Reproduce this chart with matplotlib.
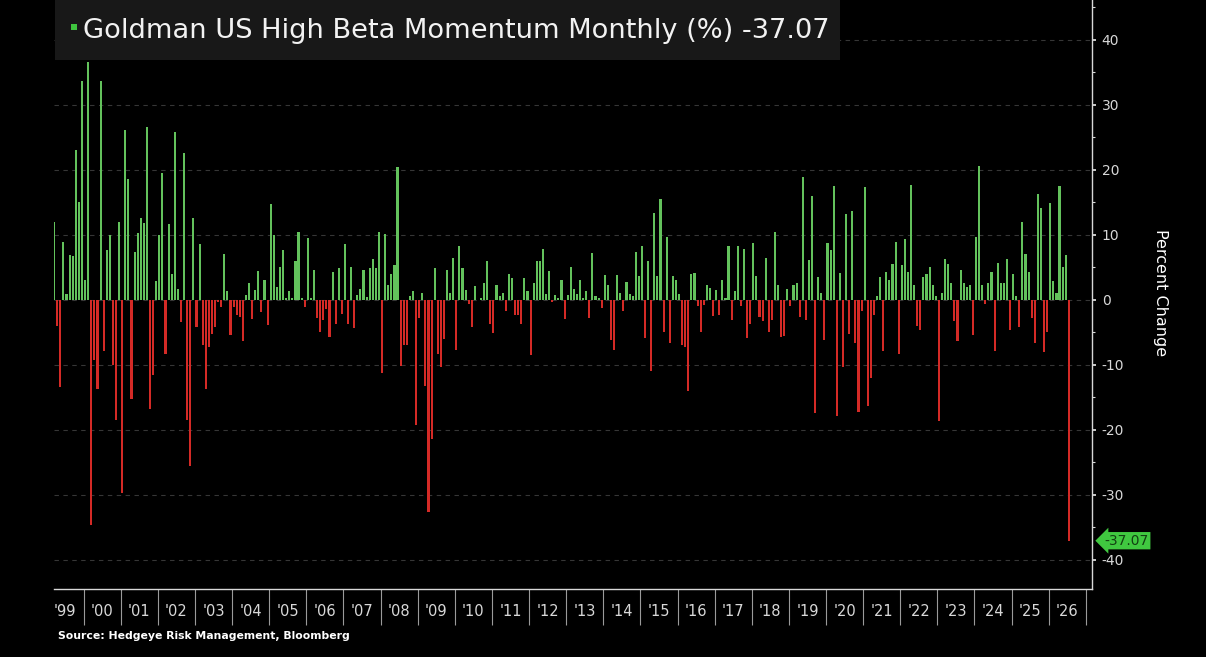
import numpy as np
import pandas as pd
import matplotlib
matplotlib.use("Agg")
import matplotlib.pyplot as plt
import matplotlib.transforms as mtransforms
from matplotlib.patches import Rectangle

plt.rcParams['font.family'] = ['DejaVu Sans']
plt.rcParams['axes.unicode_minus'] = False

# monthly % change, Mar 1999 .. Jul 2026 (one row per calendar year)
monthly_change = [
    11.9, -4.1, -13.4, 8.9, 0.9, 6.9, 6.7, 23.1, 15.0, 33.6,            # 1999 (Mar-Dec)
    3.1, 36.6, -34.7, -9.3, -13.8, 33.6, -7.9, 7.7, 9.9, -10.1, -18.5, 11.9,   # 2000
    -29.8, 26.1, 18.6, -15.2, 7.3, 10.3, 12.6, 11.8, 26.5, -16.8, -11.6, 2.9,  # 2001
    9.9, 19.5, -8.3, 11.6, 4.0, 25.8, 1.6, -3.4, 22.6, -18.5, -25.6, 12.5,     # 2002
    -4.2, 8.5, -6.9, -13.7, -7.3, -5.2, -4.2, -0.3, -1.1, 7.1, 1.3, -5.5,      # 2003
    -1.1, -2.3, -2.6, -6.3, 0.8, 2.5, -2.9, 1.5, 4.4, -1.9, 3.0, -3.9,         # 2004
    14.7, 10.0, 1.9, 5.0, 7.6, 0.3, 1.3, 0.2, 6.0, 10.4, 0.2, -1.1,            # 2005
    9.5, 0.2, 4.5, -2.8, -5.0, -3.1, -1.5, -5.7, 4.2, -3.8, 4.9, -2.2,         # 2006
    8.5, -3.7, 5.1, -4.4, 0.8, 1.6, 4.6, 0.4, 4.9, 6.2, 4.9, 10.4,             # 2007
    -11.3, 10.1, 2.3, 4.0, 5.3, 20.4, -10.2, -6.9, -6.9, 0.6, 1.3, -19.2,      # 2008
    -2.8, 1.0, -13.2, -32.7, -21.5, 4.9, -8.3, -10.4, -6.1, 4.5, 1.0, 6.4,     # 2009
    -7.7, 8.3, 4.8, 1.5, -0.6, -4.2, 2.1, -0.1, 0.2, 2.5, 5.9, -3.8,           # 2010
    -5.1, 2.3, 0.6, 1.0, -1.8, 3.9, 3.4, -2.3, -2.3, -3.8, 3.4, 1.3,           # 2011
    -8.5, 2.5, 5.9, 5.9, 7.8, 0.9, 4.4, -0.4, 0.7, 0.2, 3.1, -3.0,             # 2012
    0.7, 5.0, 1.6, 0.9, 3.1, 0.2, 1.4, -2.8, 7.2, 0.5, 0.2, -1.3,              # 2013
    3.8, 2.2, -6.2, -7.7, 3.8, 1.1, -1.8, 2.7, 0.9, 0.6, 7.4, 3.7,             # 2014
    8.3, -5.9, 5.9, -11.0, 13.4, 3.7, 15.5, -4.9, 9.7, -6.6, 3.7, 3.1,         # 2015
    0.9, -6.9, -7.2, -14.1, 4.0, 4.1, -1.0, -4.9, -0.8, 2.3, 1.8, -2.5,        # 2016
    1.5, -2.3, 3.0, 0.2, 8.3, -3.1, 1.4, 8.2, -1.0, 7.8, -5.9, -3.8,           # 2017
    8.7, 3.7, -2.6, -3.3, 6.4, -5.0, -3.1, 10.4, 2.2, -5.7, -5.6, 1.6,         # 2018
    -0.9, 2.3, 2.6, -2.6, 18.8, -3.1, 6.1, 16.0, -17.4, 3.5, 1.0, -6.2,        # 2019
    8.7, 7.7, 17.5, -17.9, 4.1, -10.4, 13.2, -5.2, 13.7, -6.7, -17.2, -1.8,    # 2020
    17.4, -16.4, -12.1, -2.3, 0.5, 3.5, -7.9, 4.2, 3.0, 5.5, 8.9, -8.4,        # 2021
    5.4, 9.4, 4.2, 17.6, 2.2, -4.1, -4.6, 3.5, 4.0, 5.0, 2.2, 0.6,             # 2022
    -18.6, 1.1, 6.3, 5.5, 2.6, -3.3, -6.4, 4.6, 2.5, 1.9, 2.3, -5.4,           # 2023
    9.7, 20.6, 2.3, -0.6, 2.6, 4.2, -7.9, 5.6, 2.6, 2.6, 6.2, -4.7,            # 2024
    4.0, 0.5, -4.2, 11.9, 7.0, 4.3, -2.8, -6.7, 16.3, 14.1, -8.1, -4.9,        # 2025
    14.8, 2.8, 1.1, 17.5, 5.1, 6.8, -37.07,                                    # 2026 (Jan-Jul)
]
first_month = '1999-03'
last_value = monthly_change[-1]

title = f"Goldman US High Beta Momentum Monthly (%) {last_value:.2f}"
source = "Source: Hedgeye Risk Management, Bloomberg"

months = pd.period_range(first_month, periods=len(monthly_change), freq='M')
vals = np.array(monthly_change)
x = np.arange(len(vals))

GREEN = '#63c25c'
RED = '#d42a26'
FG = '#d8d8d8'

fig = plt.figure(figsize=(12.06, 6.57), dpi=100, facecolor='black')
ax = fig.add_axes([0.0444, 0.1035, 0.8611, 0.8965])
ax.set_facecolor('black')

colors = np.where(vals >= 0, GREEN, RED)
ax.bar(x, vals, width=0.68, color=colors, linewidth=0, zorder=3)

ax.set_xlim(-0.2, 335.5)
ax.set_ylim(-44.5, 46.1)

# year boundaries (separators) and year labels centred in each year
years = np.arange(1999, 2027)
start = months[0]
def year_start(y):
    return (pd.Period(f'{y}-01', freq='M') - start).n - 0.5
bounds = [year_start(y) for y in range(2000, 2028)]
mids = [year_start(y) + 6 for y in years]

ax.set_xticks(bounds)
ax.set_xticklabels([])
ax.tick_params(axis='x', which='major', length=26, width=0.8, color='#9a9a9a', direction='out')
ax.set_xticks(mids, minor=True)
ax.set_xticklabels([f"'{y % 100:02d}" for y in years], minor=True)
ax.tick_params(axis='x', which='minor', length=0, pad=11, labelsize=10.5, labelcolor=FG)

ax.yaxis.tick_right()
ax.set_yticks(np.arange(-40, 41, 10))
ax.set_yticks(np.arange(-35, 46, 10), minor=True)
ax.tick_params(axis='y', which='major', length=3, width=1.3, color=FG, pad=4, labelsize=10, labelcolor=FG)
ax.tick_params(axis='y', which='minor', length=2, width=0.8, color=FG)

ax.yaxis.grid(True, which='major', color='#363636', linestyle=(0, (4, 4)), linewidth=0.8, zorder=1)
ax.set_axisbelow(True)

for side in ['left', 'top']:
    ax.spines[side].set_visible(False)
for side in ['right', 'bottom']:
    ax.spines[side].set_color(FG)
    ax.spines[side].set_linewidth(1.0)

fig.text(0.9619, 0.554, 'Percent Change', rotation=-90, color='white',
         fontsize=11.5, ha='center', va='center')

# last value tag on the right axis
trans = mtransforms.blended_transform_factory(ax.transAxes, ax.transData)
ax.text(1.012, last_value, f'{last_value:.2f}', transform=trans, ha='left', va='center',
        fontsize=10, color='#124012', clip_on=False, zorder=6,
        bbox=dict(boxstyle='larrow,pad=0.12', fc='#40c840', ec='none'))

# title panel
fig.add_artist(Rectangle((0.0456, 0.9087), 0.651, 0.0913, transform=fig.transFigure,
                         fc='#181818', ec='none', zorder=5))
fig.add_artist(Rectangle((70.5 / 1206, 1 - 30 / 657), 6 / 1206, 6 / 657, transform=fig.transFigure,
                         fc='#3ec43e', ec='none', zorder=6))
fig.text(83 / 1206, 1 - 38.5 / 657, title, fontsize=19.6, color='#f2f2f2',
         ha='left', va='baseline', zorder=6)

fig.text(58 / 1206, 1 - 636 / 657, source, fontsize=7.8, fontweight='bold',
         color='white', ha='left', va='center')

fig.savefig('out.png', dpi=100, facecolor='black')
